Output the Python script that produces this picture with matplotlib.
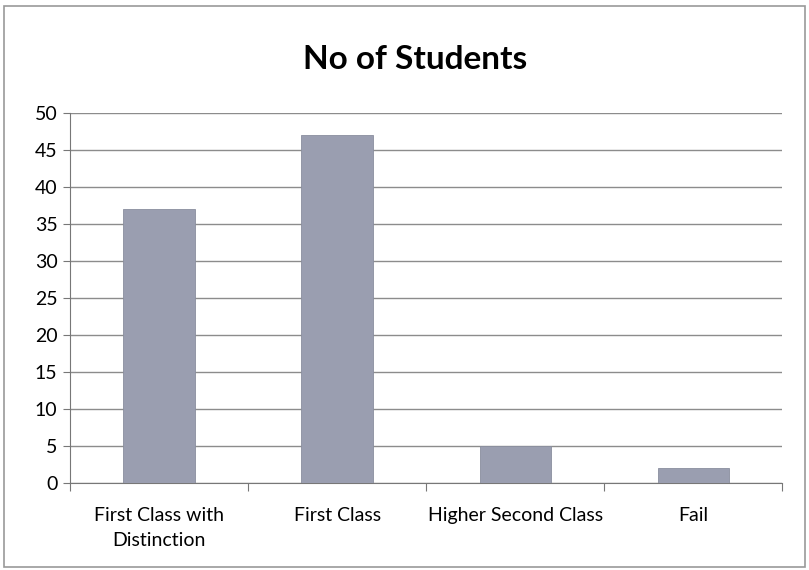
import matplotlib.pyplot as plt
import numpy as np

# datos del grafico
categorias = ["First Class with\nDistinction", "First Class", "Higher Second Class", "Fail"]
alumnos = [37, 47, 5, 2]
yticks = list(range(0, 51, 5))

plt.rcParams['font.family'] = ['Lato', 'DejaVu Sans']

fig = plt.figure(figsize=(8.09, 5.70), dpi=100)
ax = fig.add_axes([0.0865, 0.1526, 0.8805, 0.6494])

x = np.arange(len(categorias))
ax.bar(x, alumnos, width=0.4, color='#9a9eb0', edgecolor='#8a8e9e', linewidth=0.6, zorder=3)

ax.set_xlim(-0.5, len(categorias) - 0.5)
ax.set_ylim(0, 50)
ax.set_yticks(yticks)
ax.tick_params(axis='y', labelsize=14, length=5, color='#777777', pad=4)
ax.yaxis.grid(True, color='#8c8c8c', linewidth=1.0, zorder=0)

# ticks del eje x entre categorias, estilo Excel
ax.set_xticks(np.arange(-0.5, len(categorias), 1.0))
ax.set_xticklabels([])
ax.set_xticks(x, minor=True)
ax.set_xticklabels(categorias, minor=True, fontsize=14, linespacing=1.6)
ax.tick_params(axis='x', which='major', length=6, color='#777777')
ax.tick_params(axis='x', which='minor', length=0, pad=17)

for lado in ['top', 'right']:
    ax.spines[lado].set_visible(False)
ax.spines['left'].set_color('#777777')
ax.spines['bottom'].set_color('#777777')

fig.text(0.513, 0.895, "No of Students", ha='center', va='center', fontsize=24, fontweight='bold')

# marco del grafico
fig.patches.append(plt.Rectangle((0.005, 0.005), 0.99, 0.985, transform=fig.transFigure,
                                 fill=False, edgecolor='#999999', linewidth=1.2))

fig.savefig("out.png", dpi=100)
